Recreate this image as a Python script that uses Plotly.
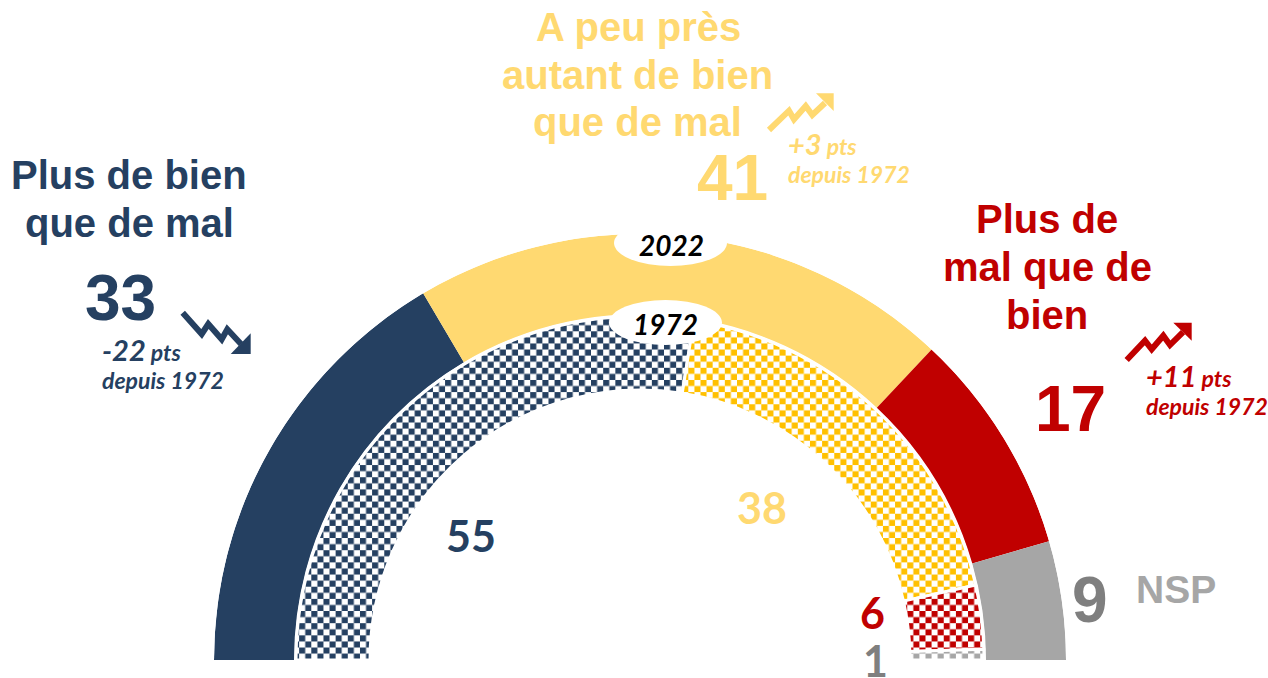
import numpy as np
import plotly.graph_objects as go

categories = ["Plus de bien que de mal", "A peu près autant de bien que de mal", "Plus de mal que de bien", "NSP"]
values_2022 = [33, 41, 17, 9]
values_1972 = [55, 38, 6, 1]
colors_2022 = ["#254061", "#FFD971", "#C00000", "#A6A6A6"]
colors_1972 = ["#254061", "#FFC000", "#C00000", "#A6A6A6"]
deltas = ["-22", "+3", "+11"]

W, H = 1268, 678
CX, CY, R = 640, 660, 426


def px(x, y):
    return x / W, 1 - y / H


def angles(vals):
    v = np.array(vals, dtype=float)
    edges = np.cumsum(v) - v
    return (edges + v / 2) * 180 / v.sum(), v * 180 / v.sum()


fig = go.Figure()
th, wd = angles(values_2022)
fig.add_trace(go.Barpolar(
    r=[80] * 4, base=346, theta=th, width=wd, text=categories, hoverinfo="text",
    marker=dict(color=colors_2022, line=dict(width=0)),
))
th, wd = angles(values_1972)
fig.add_trace(go.Barpolar(
    r=[74] * 4, base=270, theta=th, width=wd, text=categories, hoverinfo="text",
    marker=dict(color=colors_1972, line=dict(color="white", width=3),
                pattern=dict(shape="x", size=8.6, solidity=0.5, fillmode="overlay",
                             fgcolor=colors_1972, bgcolor="white")),
))

ann = []


def label(x, y, text, size, color, family="Liberation Sans", bold=True, italic=False, xanchor="center"):
    xp, yp = px(x, y)
    ann.append(dict(x=xp, y=yp, xref="paper", yref="paper", text=text, showarrow=False,
                    xanchor=xanchor, yanchor="middle", align="center",
                    font=dict(size=size, color=color, family=family,
                              weight="bold" if bold else "normal",
                              style="italic" if italic else "normal")))


NAVY, YEL, RED, GR, GR2 = "#254061", "#FFD971", "#C00000", "#A6A6A6", "#7F7F7F"
label(129, 175, "Plus de bien", 40, NAVY)
label(129, 223, "que de mal", 40, NAVY)
label(120, 298, str(values_2022[0]), 64, NAVY)
label(638, 27, "A peu près", 40, YEL)
label(637, 75, "autant de bien", 40, YEL)
label(637, 122, "que de mal", 40, YEL)
label(732, 178, str(values_2022[1]), 64, YEL)
label(1047, 219, "Plus de", 40, RED)
label(1047, 267, "mal que de", 40, RED)
label(1047, 315, "bien", 40, RED)
label(1070, 409, str(values_2022[2]), 64, RED)
label(1090, 600, str(values_2022[3]), 64, GR2)
label(1176, 589, "NSP", 39, GR)

for x, y, d, col in [(100, 352, deltas[0], NAVY), (786, 146, deltas[1], YEL), (1144, 378, deltas[2], RED)]:
    label(x, y - 3, f'{d}<span style="font-size:23px"> pts</span>', 29, col, "Lato", italic=True, xanchor="left")
    label(x, y + 28, "depuis 1972", 23, col, "Lato", italic=True, xanchor="left")

label(471, 535, str(values_1972[0]), 43, NAVY, "Lato")
label(762, 507, str(values_1972[1]), 43, YEL, "Lato")
label(872, 612, str(values_1972[2]), 43, RED, "Lato")
label(875, 660, str(values_1972[3]), 43, GR2, "Lato")
label(671, 245, "2022", 28, "black", "Lato", italic=True)
label(666, 324, "1972", 28, "black", "Lato", italic=True)

shapes = []
for x0, x1, y0, y1 in [(614, 727, 220, 266), (609, 722, 300, 345)]:
    a, b = px(x0, y0)
    c, d = px(x1, y1)
    shapes.append(dict(type="circle", xref="paper", yref="paper", x0=a, x1=c, y0=d, y1=b,
                       fillcolor="white", line=dict(width=0), layer="above"))


def arrow(points, head, color):
    def path(pts, close=False):
        s = "M" + " L".join("{:.5f},{:.5f}".format(*px(*p)) for p in pts)
        return s + (" Z" if close else "")
    shapes.append(dict(type="path", xref="paper", yref="paper", path=path(points),
                       line=dict(color=color, width=6), fillcolor="rgba(0,0,0,0)"))
    shapes.append(dict(type="path", xref="paper", yref="paper", path=path(head, True),
                       line=dict(width=0), fillcolor=color))


arrow([(182.7, 312.7), (201.7, 334), (208.3, 324), (221.7, 339.3), (227.3, 329.3), (241, 344)],
      [(250.7, 333.3), (250.7, 354), (230.7, 354)], NAVY)
arrow([(769, 130), (789, 110.7), (794, 119.3), (805.7, 106), (812.3, 115), (825, 103)],
      [(816, 93.3), (833.7, 93.3), (833.7, 111)], YEL)
arrow([(1126.7, 360), (1145, 340.7), (1151.7, 349.3), (1163.3, 335.7), (1170, 345), (1183, 332)],
      [(1173.3, 322.7), (1191.7, 322.7), (1191.7, 340.7)], RED)

fig.update_layout(
    width=W, height=H, margin=dict(l=0, r=0, t=0, b=0), showlegend=False,
    paper_bgcolor="white", plot_bgcolor="white", annotations=ann, shapes=shapes,
    polar=dict(
        domain=dict(x=[(CX - R) / W, (CX + R) / W], y=[1 - CY / H, 1 - (CY - R) / H]),
        sector=[0, 180], bgcolor="rgba(0,0,0,0)", hole=0,
        radialaxis=dict(range=[0, R], visible=False),
        angularaxis=dict(direction="clockwise", rotation=180, visible=False),
    ),
)

# Plotly has no checkerboard pattern shape: redraw its pattern tiles as checkers.
CHECKER_JS = """
document.body.style.margin='0';document.body.style.overflow='hidden';
function tint(p){
  var out=null;
  Array.prototype.forEach.call(p.children,function(el){
    [el.style.stroke,el.style.fill,el.getAttribute('stroke'),el.getAttribute('fill')].forEach(function(c){
      if(out||!c)return;
      var k=c.replace(/\\s/g,'').toLowerCase();
      if(k==='none'||k==='white'||k==='#fff'||k==='#ffffff'||k==='rgb(255,255,255)'||k==='transparent')return;
      out=c;
    });
  });
  return out;
}
function checker(){
  document.querySelectorAll('pattern').forEach(function(p){
    if(p.getAttribute('data-ck'))return;
    var col=tint(p);if(!col)return;
    var s=parseFloat(p.getAttribute('width'));
    while(p.firstChild)p.removeChild(p.firstChild);
    var ns='http://www.w3.org/2000/svg';
    [[0,0,s,s,'#ffffff'],[0,0,s/2,s/2,col],[s/2,s/2,s/2,s/2,col]].forEach(function(a){
      var r=document.createElementNS(ns,'rect');
      r.setAttribute('x',a[0]);r.setAttribute('y',a[1]);r.setAttribute('width',a[2]);
      r.setAttribute('height',a[3]);r.style.fill=a[4];p.appendChild(r);
    });
    p.setAttribute('data-ck','1');
  });
}
checker();setTimeout(checker,50);setTimeout(checker,300);setTimeout(checker,1000);
"""
fig.write_html("out.html", config={"displayModeBar": False}, post_script=CHECKER_JS)
